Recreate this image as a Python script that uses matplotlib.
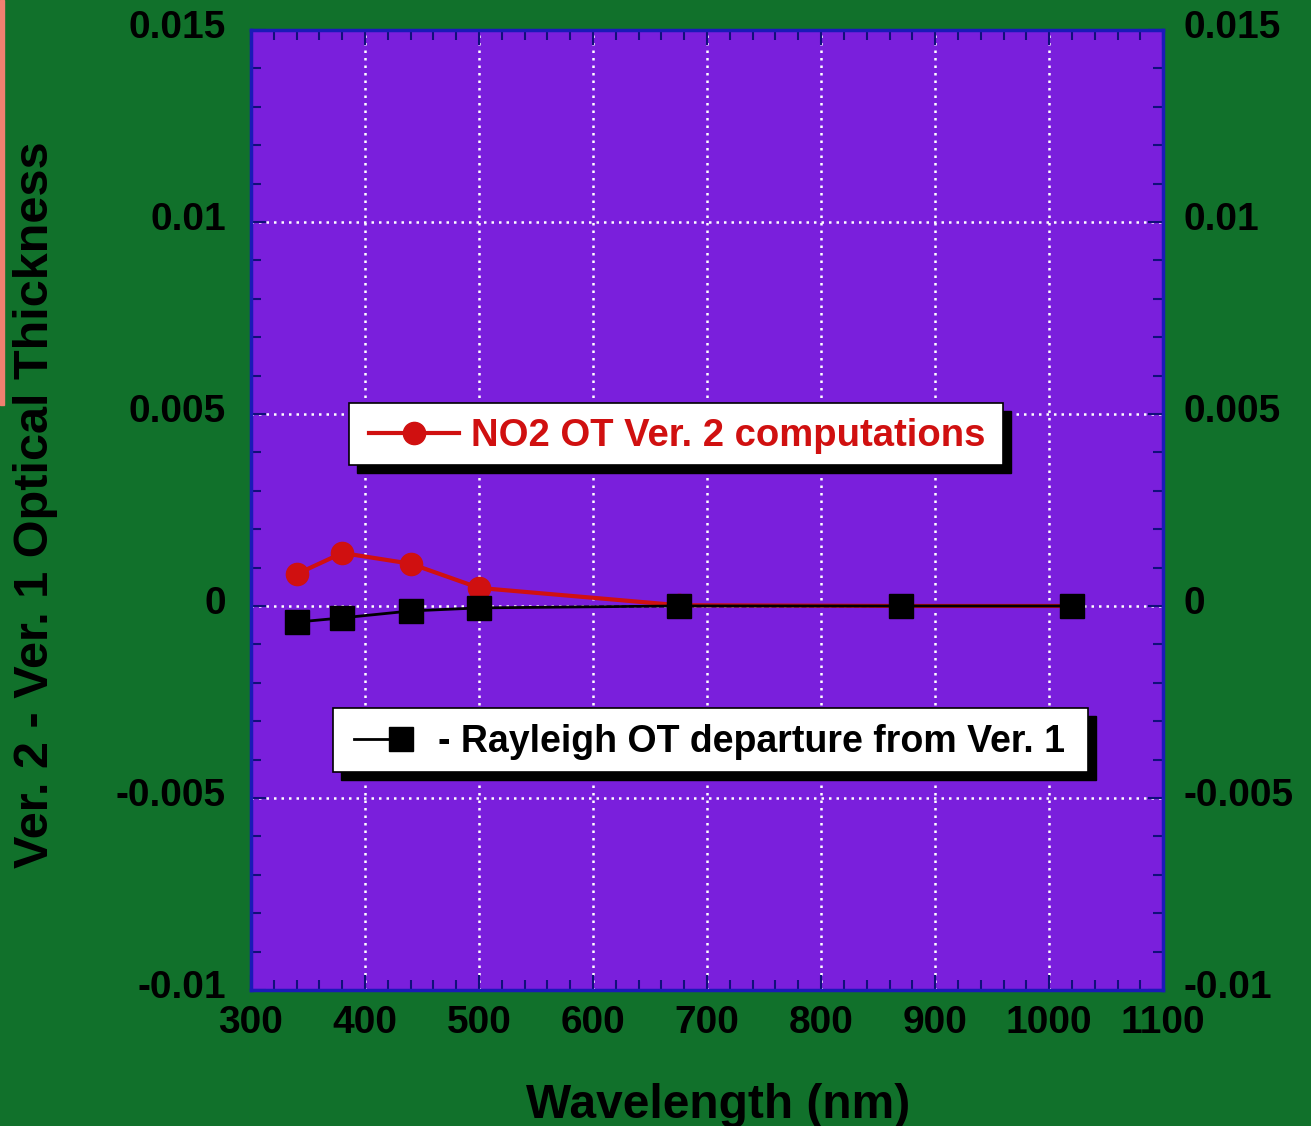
#! /usr/bin/env python

# Ver. 2 minus Ver. 1 optical thickness vs wavelength

import numpy as np
import matplotlib
matplotlib.use("Agg")
import matplotlib.pyplot as plt
import matplotlib.transforms as mtransforms
from matplotlib.patches import Rectangle
from matplotlib.ticker import MultipleLocator
from matplotlib.legend_handler import HandlerLine2D

# data
wavelength = [340, 380, 440, 500, 675, 870, 1020]
no2_ot = [0.00083, 0.00138, 0.0011, 0.00047, 0.00002, 0.0, 0.0]
rayleigh_diff = [-0.00042, -0.00031, -0.00013, -0.00005, 0.0, 0.0, 0.0]

no2_label = 'NO2 OT Ver. 2 computations'
ray_label = '- Rayleigh OT departure from Ver. 1'

# colours
bg = '#11712b'
face = '#7a1fdc'
spine = '#1a1ab8'
red = '#d01010'

W, H = 1311, 1126

plt.rcParams['font.family'] = ['Liberation Sans', 'DejaVu Sans']
plt.rcParams['font.weight'] = 'bold'
plt.rcParams['axes.labelweight'] = 'bold'

fig = plt.figure(figsize=(W / 100., H / 100.), dpi=100, facecolor=bg)
ax = fig.add_axes([0.1915, 0.1208, 0.6957, 0.8526])
ax.set_facecolor(face)


def fig_xy(px, py):
    # pixel position (from top-left) -> figure fraction
    return px / float(W), 1 - py / float(H)


# salmon strip on the left edge
fig.patches.append(Rectangle(fig_xy(0, 405), 4. / W, 405. / H,
                             transform=fig.transFigure, color='#f08070', zorder=0))

ax.plot(wavelength, no2_ot, '-o', color=red, lw=3, ms=16, mec=red, zorder=3, label=no2_label)
ax.plot(wavelength, rayleigh_diff, '-s', color='black', lw=2, ms=17, zorder=4, label=ray_label)

ax.set_xlim(300, 1100)
ax.set_ylim(-0.01, 0.015)
ax.xaxis.set_major_locator(MultipleLocator(100))
ax.xaxis.set_minor_locator(MultipleLocator(20))
ax.yaxis.set_minor_locator(MultipleLocator(0.001))
ax.set_yticks([-0.01, -0.005, 0, 0.005, 0.01, 0.015])
ax.set_yticklabels(['-0.01', '-0.005', '0', '0.005', '0.01', '0.015'])

ax.grid(True, which='major', color='white', ls=(0, (1, 2)), lw=1.8, zorder=1)

ax.tick_params(which='both', direction='in', top=True, right=True,
               labelright=True, colors='#10107a', labelcolor='black', width=1.5)
ax.tick_params(axis='y', which='major', length=11, labelsize=28, pad=18)
ax.tick_params(axis='x', which='major', length=11, labelsize=28, pad=11)
ax.tick_params(which='minor', length=7)

# nudge y tick labels up a little, right-hand ones slightly inward
up = mtransforms.ScaledTranslation(0, 4 / 72., fig.dpi_scale_trans)
up_in = mtransforms.ScaledTranslation(-3 / 72., 4 / 72., fig.dpi_scale_trans)
for t in ax.yaxis.get_major_ticks():
    t.label1.set_transform(t.label1.get_transform() + up)
    t.label2.set_transform(t.label2.get_transform() + up_in)

for s in ax.spines.values():
    s.set_color(spine)
    s.set_linewidth(2.5)

ax.set_xlabel('Wavelength (nm)', fontsize=34.5, va='top')
ax.xaxis.set_label_coords(0.512, -0.097)
ax.set_ylabel('Ver. 2 - Ver. 1 Optical Thickness', fontsize=35)
ax.yaxis.set_label_coords(-0.212, 0.505)


class MarkerAtEnd(HandlerLine2D):
    # legend handle: line with the marker at its right end
    def create_artists(self, *args, **kwargs):
        arts = super().create_artists(*args, **kwargs)
        for a in arts:
            a.set_markevery([2])
        return arts


# legend boxes with black drop shadows
def legend_box(x0, y0, x1, y1, shift=8):
    (fx0, fy1), (fx1, fy0) = fig_xy(x0, y0), fig_xy(x1, y1)
    (sx0, sy1), (sx1, sy0) = fig_xy(x0 + shift, y0 + shift), fig_xy(x1 + shift, y1 + shift)
    ax.add_patch(Rectangle((sx0, sy0), sx1 - sx0, sy1 - sy0, transform=fig.transFigure,
                           color='black', zorder=5))
    ax.add_patch(Rectangle((fx0, fy0), fx1 - fx0, fy1 - fy0, transform=fig.transFigure,
                           facecolor='white', edgecolor='black', lw=1.2, zorder=6))


legend_box(349, 403, 1003, 465)
legend_box(333, 708, 1088, 772)

h = ax.get_lines()
leg1 = ax.legend([h[0]], [no2_label], loc='center left', bbox_to_anchor=fig_xy(369, 436),
                 bbox_transform=fig.transFigure, borderaxespad=0, borderpad=0,
                 frameon=False, numpoints=1, handlelength=2.36, handletextpad=0.31,
                 fontsize=27.5, labelcolor=red)
leg1.set_zorder(7)
ax.add_artist(leg1)
leg2 = ax.legend([h[1]], [ray_label], loc='center left', bbox_to_anchor=fig_xy(354, 742),
                 bbox_transform=fig.transFigure, borderaxespad=0, borderpad=0,
                 frameon=False, numpoints=1, handlelength=1.25, handletextpad=1.0,
                 fontsize=27, handler_map={h[1]: MarkerAtEnd()})
leg2.set_zorder(7)

plt.savefig('out.png', dpi=100, facecolor=bg)
